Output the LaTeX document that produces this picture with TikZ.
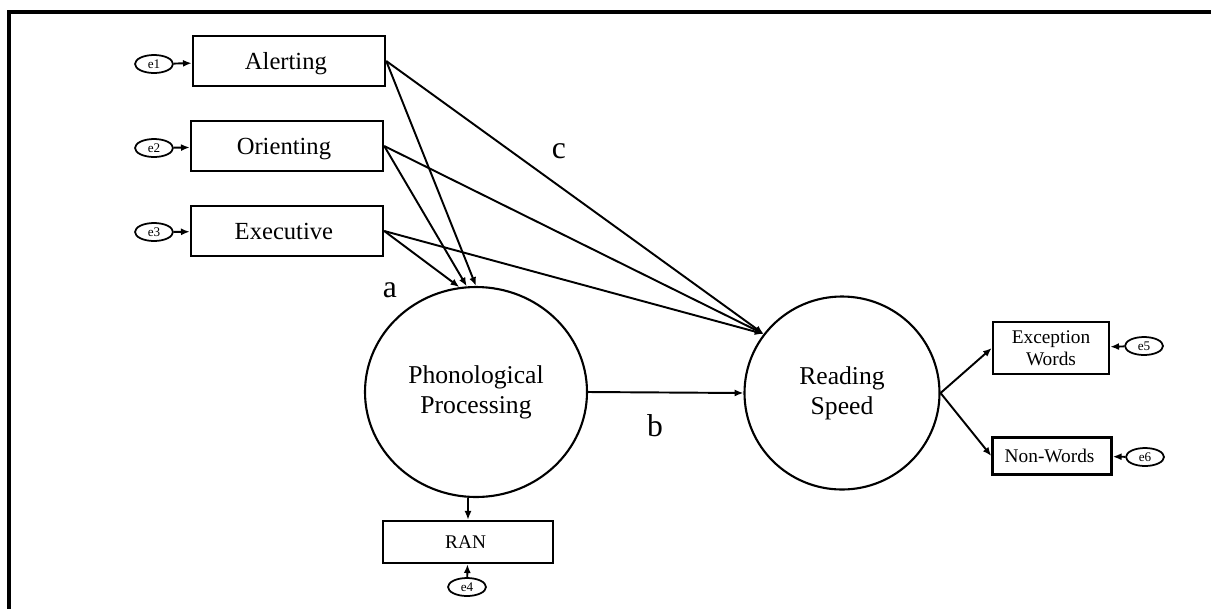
\documentclass[tikz,border=0pt]{standalone}
\usepackage{fontspec}
\setmainfont{Liberation Serif}
\usetikzlibrary{shapes.geometric,arrows.meta}

\tikzset{
    >={Latex[length=5pt,width=4pt]},
    path/.style={line width=1.1pt, ->},
    obsbox/.style={draw, line width=1.4pt, rectangle, inner sep=0pt, align=center},
    bigbox/.style={obsbox, minimum width=38.4mm, minimum height=10mm, text depth=0pt, font=\fontsize{14}{16}\selectfont},
    smallbox/.style={obsbox, font=\fontsize{11}{12.5}\selectfont},
    latent/.style={draw, line width=1.2pt, ellipse, inner sep=0pt, align=center, font=\fontsize{14.6}{17}\selectfont},
    err/.style={draw, line width=1pt, ellipse, inner sep=0pt, minimum width=7.6mm, minimum height=3.6mm, font=\fontsize{7.5}{8}\selectfont},
    coef/.style={font=\fontsize{18}{20}\selectfont}
}

\begin{document}
\begin{tikzpicture}[x=0.2mm, y=-0.2mm]
    \useasboundingbox (0,0) rectangle (1211,608);
    % frame, only top and left edges fall on the page
    \draw [line width=1.8pt] (9,12) rectangle (1240,640);

    % attention networks
    \node [bigbox] (al) at (289,61) { Alerting };
    \node [bigbox] (or) at (287,146) { Orienting };
    \node [bigbox] (ex) at (287,231) { Executive };
    \node [err] (e1) at (154,64) { e1 };
    \node [err] (e2) at (154,148) { e2 };
    \node [err] (e3) at (154,232) { e3 };
    \draw [path] (e1) -- (al);
    \draw [path] (e2) -- (or);
    \draw [path] (e3) -- (ex);

    % latent factors
    \node [latent, minimum width=44.4mm, minimum height=42mm] (ph) at (476,392) { Phonological \\ Processing };
    \node [latent, minimum width=39mm, minimum height=38.6mm] (rs) at (842,393) { Reading \\ Speed };

    % indicators
    \node [smallbox, minimum width=34mm, minimum height=8.4mm] (ran) at (468,542) { RAN };
    \node [smallbox, minimum width=23.2mm, minimum height=10.4mm] (exc) at (1051,348) { Exception \\ Words };
    \node [smallbox, minimum width=23.8mm, minimum height=7.4mm] (nw) at (1052,456) { Non-Words };
    \node [err] (e4) at (467,587) { e4 };
    \node [err] (e5) at (1144,346) { e5 };
    \node [err] (e6) at (1145,457) { e6 };

    % paths a, b, c
    \draw [path] (al.east) -- (ph.90);
    \draw [path] (or.east) -- (ph.95);
    \draw [path] (ex.east) -- (ph.99);
    \draw [path] (al.east) -- (rs.143);
    \draw [path] (or.east) -- (rs.143);
    \draw [path] (ex.east) -- (rs.143);
    \draw [path] (ph.east) -- (rs.west);

    % measurement part
    \draw [path] (ran.north |- ph.south) -- (ran.north);
    \draw [path] (e4) -- (ran);
    \draw [path] (rs.east) -- (exc.west);
    \draw [path] (rs.east) -- (nw.west);
    \draw [path] (e5) -- (exc);
    \draw [path] (e6) -- (nw);

    \node [coef] (la) at (390,290) { a };
    \node [coef] (lb) at (655,426) { b };
    \node [coef] (lc) at (559,151) { c };
\end{tikzpicture}
\end{document}
